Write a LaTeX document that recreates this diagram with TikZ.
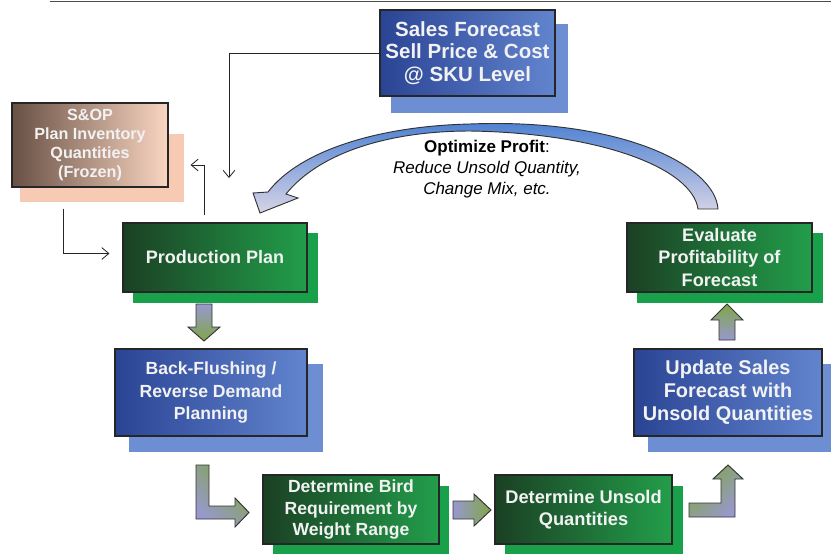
\documentclass[tikz,border=0pt]{standalone}
\usepackage{fontspec}
\setmainfont{Liberation Sans}
\usetikzlibrary{calc,arrows.meta}
\pgfdeclarelayer{background}
\pgfsetlayers{background,main}

\definecolor{gdark}{RGB}{27,64,36}
\definecolor{glight}{RGB}{34,158,74}
\definecolor{gshadow}{RGB}{24,160,74}
\definecolor{bdark}{RGB}{42,68,148}
\definecolor{blight}{RGB}{98,132,206}
\definecolor{bshadow}{RGB}{110,142,212}
\definecolor{sdark}{RGB}{104,80,68}
\definecolor{slight}{RGB}{250,214,194}
\definecolor{sshadow}{RGB}{247,202,180}
\definecolor{agreen}{RGB}{128,166,72}
\definecolor{alav}{RGB}{152,152,206}
\definecolor{cblue}{RGB}{72,126,210}
\definecolor{clight}{RGB}{214,212,230}

\tikzset{
  box/.style={draw=black!85, line width=0.9pt, inner sep=0pt, align=center,
    text=white!95!black, font=\fontsize{15}{19}\selectfont\bfseries},
  greenbox/.style={box, left color=gdark, right color=glight},
  bluebox/.style={box, left color=bdark, right color=blight},
  sopbox/.style={box, left color=sdark, right color=slight},
  link/.style={draw=black!85, line width=0.7pt, -{Straight Barb[length=6pt,width=10pt]}},
  fat/.style={draw=black!80, line width=0.8pt, line join=miter},
}

\begin{document}
\begin{tikzpicture}[x=0.03cm,y=0.03cm] % 1 unit = 1 px of the sketch
  \useasboundingbox (0,0) rectangle (831,-553);

  % rule at the top
  \draw[line width=1.2pt, black!70] (50,-1.5) -- (831,-1.5);

  % boxes
  \node[bluebox, minimum width=5.25cm, minimum height=2.58cm, font=\fontsize{17.5}{19.2}\selectfont\bfseries] (sales) at (467.5,-53) {Sales Forecast\\Sell Price \& Cost\\@ SKU Level};
  \node[sopbox, minimum width=4.68cm, minimum height=2.52cm, font=\fontsize{13.8}{16.2}\selectfont\bfseries] (sop) at (90,-145) {S\&OP\\Plan Inventory\\Quantities\\(Frozen)};
  \node[greenbox, minimum width=5.52cm, minimum height=2.07cm, font=\fontsize{15.4}{19}\selectfont\bfseries] (prod) at (215,-257.5) {Production Plan};
  \node[bluebox, minimum width=5.76cm, minimum height=2.61cm] (back) at (211,-392.5) {Back-Flushing /\\Reverse Demand\\Planning};
  \node[greenbox, minimum width=5.28cm, minimum height=2.07cm, font=\fontsize{15}{18.5}\selectfont\bfseries] (bird) at (351,-509.5) {Determine Bird\\Requirement by\\Weight Range};
  \node[greenbox, minimum width=5.31cm, minimum height=2.07cm, font=\fontsize{15.6}{19}\selectfont\bfseries] (unsold) at (583.5,-509.5) {Determine Unsold\\Quantities};
  \node[bluebox, minimum width=5.64cm, minimum height=2.61cm, font=\fontsize{17}{19.6}\selectfont\bfseries] (update) at (728,-392.5) {Update Sales\\Forecast with\\Unsold Quantities};
  \node[greenbox, minimum width=5.55cm, minimum height=2.07cm, font=\fontsize{15.5}{18.8}\selectfont\bfseries] (eval) at (719.5,-257.5) {Evaluate\\Profitability of\\Forecast};

  % shadows behind the boxes
  \begin{pgfonlayer}{background}
    \fill[bshadow] ($(sales.south west)+(12,-16)$) rectangle ($(sales.north east)+(12,-15)$);
    \fill[sshadow] ($(sop.south west)+(9,-14)$) rectangle ($(sop.north east)+(15,-32)$);
    \fill[gshadow] ($(prod.south west)+(11,-10)$) rectangle ($(prod.north east)+(10,-11)$);
    \fill[bshadow] ($(back.south west)+(15,-15)$) rectangle ($(back.north east)+(15,-16)$);
    \fill[gshadow] ($(bird.south west)+(11,-12)$) rectangle ($(bird.north east)+(9,-12)$);
    \fill[gshadow] ($(unsold.south west)+(11,-12)$) rectangle ($(unsold.north east)+(10,-12)$);
    \fill[bshadow] ($(update.south west)+(15,-15)$) rectangle ($(update.north east)+(15,-16)$);
    \fill[gshadow] ($(eval.south west)+(11,-10)$) rectangle ($(eval.north east)+(10,-11)$);
  \end{pgfonlayer}

  % thin arrows
  \coordinate (fcin) at (229,-178);
  \draw[link] (sales.west) -| (fcin);
  \draw[link] ($(sop.south)+(-27,-21)$) |- ($(prod.west)+(-13,4)$);
  \draw[link] ($(prod.north)+(-11,7)$) |- ($(sop.east)+(22,-20)$);

  % block arrows
  \shadedraw[fat, top color=alav, bottom color=agreen] (196,-304) -- (212,-304) -- (212,-327) -- (220,-327) -- (204,-341) -- (188,-327) -- (196,-327) -- cycle;
  \shadedraw[fat, top color=agreen, bottom color=alav, shading angle=-45] (196,-465) -- (209,-465) -- (209,-506) -- (235,-506) -- (235,-498) -- (249,-512.5) -- (235,-527) -- (235,-519) -- (196,-519) -- cycle;
  \shadedraw[fat, left color=alav, right color=agreen] (453,-501) -- (474,-501) -- (474,-494) -- (491,-510) -- (474,-526) -- (474,-519) -- (453,-519) -- cycle;
  \shadedraw[fat, top color=agreen, bottom color=alav, shading angle=45] (689,-503) -- (721,-503) -- (721,-479) -- (713,-479) -- (728,-465) -- (743,-479) -- (735,-479) -- (735,-517) -- (689,-517) -- cycle;
  \shadedraw[fat, top color=agreen, bottom color=alav] (719,-340) -- (735,-340) -- (735,-320) -- (743,-320) -- (727,-304) -- (711,-320) -- (719,-320) -- cycle;

  % the big curved arrow back to the plan
  \shadedraw[fat, top color=cblue, bottom color=clight]
    (268,-192) .. controls (300,-150) and (380,-126) .. (470,-124)
    .. controls (620,-118) and (715,-165) .. (718,-209) -- (698,-209)
    .. controls (692,-168) and (600,-133) .. (470,-131)
    .. controls (390,-131) and (320,-152) .. (286,-194)
    -- (298,-198) -- (260,-213) -- (253,-193) -- cycle;
  \node[font=\fontsize{14.5}{18}\selectfont, align=center] (profit) at (487,-169) {\textbf{Optimize Profit}:\\\textit{Reduce Unsold Quantity,}\\\textit{Change Mix, etc.}};
\end{tikzpicture}
\end{document}
